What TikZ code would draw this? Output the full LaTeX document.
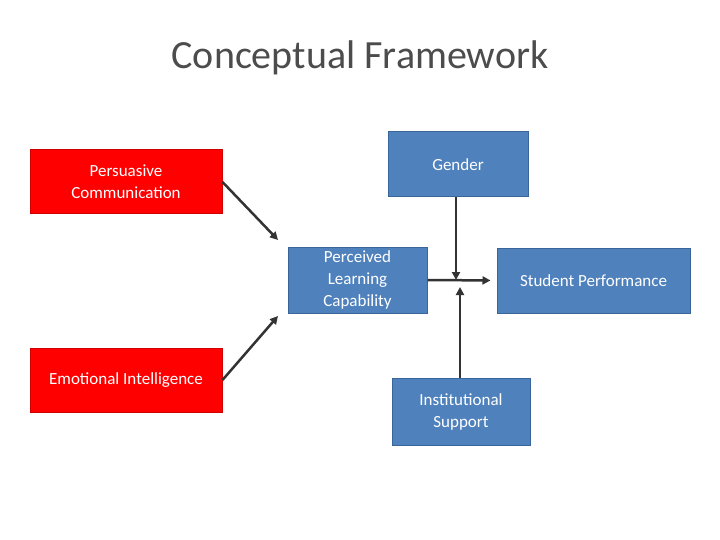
\documentclass[tikz,border=0pt]{standalone}
\usepackage{fontspec}
\setmainfont{Carlito}
\usetikzlibrary{arrows.meta}
\definecolor{boxblue}{HTML}{4F81BD}
\definecolor{boxblueline}{HTML}{3A6598}
\definecolor{boxred}{HTML}{FF0000}
\definecolor{boxredline}{HTML}{D00000}
\tikzset{
  box/.style={draw, line width=1pt, inner sep=2pt, text=white, align=center,
    font=\fontsize{17}{22}\selectfont},
  redbox/.style={box, fill=boxred, draw=boxredline},
  bluebox/.style={box, fill=boxblue, draw=boxblueline},
  link/.style={line width=2.5pt, draw=black!80, -{Triangle[length=8pt,width=8pt]}}
}
\begin{document}
\begin{tikzpicture}[x=1pt,y=-1pt]
\useasboundingbox (0,0) rectangle (720,540);
\node[font=\fontsize{40}{44}\selectfont, text=black!70] (title) at (360,58) {Conceptual Framework};
% boxes
\node[redbox, minimum width=192pt, minimum height=64pt] (comm) at (126,182) {Persuasive\\Communication};
\node[redbox, minimum width=192pt, minimum height=64pt] (emo) at (126,380) {Emotional Intelligence};
\node[bluebox, minimum width=139pt, minimum height=66pt] (plc) at (357.5,280) {Perceived\\Learning\\Capability};
\node[bluebox, minimum width=140pt, minimum height=65pt] (gender) at (458,164.5) {Gender};
\node[bluebox, minimum width=193pt, minimum height=65pt] (perf) at (593.5,280.5) {Student Performance};
\node[bluebox, minimum width=138pt, minimum height=67pt] (inst) at (461,411.5) {Institutional\\Support};
% arrow ends
\coordinate (commend) at (278,240);
\coordinate (emoend) at (278,316);
\coordinate (genend) at (456,280);
\coordinate (instend) at (460,287);
% arrows
\draw[link] (comm.east) -- (commend);
\draw[link] (emo.east) -- (emoend);
\draw[link, shorten >=6pt] (plc.east) -- (perf.west);
\draw[link] (gender.south -| genend) -- (genend);
\draw[link] (inst.north -| instend) -- (instend);
\end{tikzpicture}
\end{document}
